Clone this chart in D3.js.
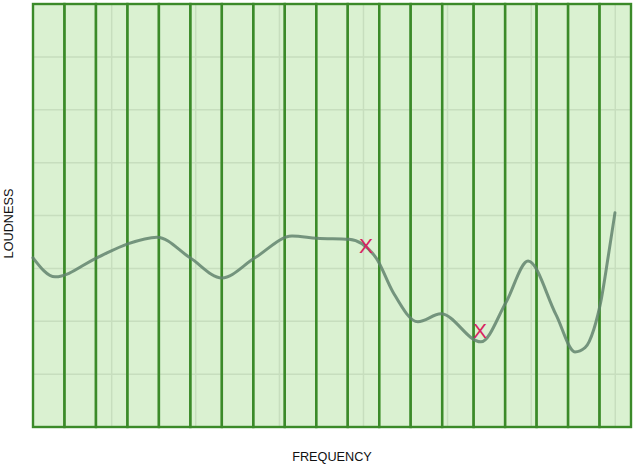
<!DOCTYPE html>
<html>
<head>
<meta charset="utf-8">
<script src="https://cdn.jsdelivr.net/npm/d3@7"></script>
<style>
  html, body { margin: 0; padding: 0; background: #fff; }
  svg { display: block; }
  text { font-family: "Liberation Sans", Arial, Helvetica, sans-serif; }
</style>
</head>
<body>
<svg id="chart" width="636" height="465"></svg>
<script>
// ---- data ----
const bands = ["1","2","3","4","5","6","7","8","9","10","11","12","13","14","15","16","17","18","19"];
const bandLoudness = [8,8,8,8,8,8,8,8,8,8,8,8,8,8,8,8,8,8,8];

// curve: frequency (band units) and loudness
const curveFreq = [0, 0.70, 2.03, 2.99, 3.94, 4.99, 6.00, 7.05, 8.23, 9.02, 10.04, 10.90, 11.44, 12.23, 12.96, 14.23, 15.03, 15.73, 16.62, 17.22, 17.54, 17.82, 18.05, 18.27, 18.49];
const curveLoud = [3.20, 2.84, 3.20, 3.46, 3.59, 3.20, 2.82, 3.20, 3.61, 3.57, 3.55, 3.20, 2.55, 1.99, 2.14, 1.61, 2.36, 3.14, 2.12, 1.42, 1.50, 1.85, 2.40, 3.20, 4.05];

// marked points
const markFreq = [10.58, 14.20];
const markLoud = [3.44, 1.82];

// grid ticks
const yGridTicks = [1, 2, 3, 4, 5, 6, 7];
const xGridTicks = [2.5, 5.17, 7.83, 10.5, 13.17, 15.83, 18.5];

const xLabel = "FREQUENCY";
const yLabel = "LOUDNESS";

(function () {
// ---- layout ----
const mLeft = 33, mRight = 631, mTop = 4, mBottom = 427;
const svg = d3.select("#chart");

const xBand = d3.scaleBand().domain(bands).range([mLeft, mRight]).padding(0);
const xLin = d3.scaleLinear().domain([0, bands.length]).range([mLeft, mRight]);
const y = d3.scaleLinear().domain([0, 8]).range([mBottom, mTop]);

// grid (behind bars)
const grid = svg.append("g");
grid.selectAll("line.h").data(yGridTicks).join("line")
  .attr("class", "h")
  .attr("x1", mLeft).attr("x2", mRight)
  .attr("y1", d => y(d)).attr("y2", d => y(d))
  .attr("stroke", "#dadada").attr("stroke-width", 1.5);
grid.selectAll("line.v").data(xGridTicks).join("line")
  .attr("class", "v")
  .attr("y1", mTop).attr("y2", mBottom)
  .attr("x1", d => xLin(d)).attr("x2", d => xLin(d))
  .attr("stroke", "#dadada").attr("stroke-width", 1.5);

// bars
svg.append("g").selectAll("rect").data(bands).join("rect")
  .attr("x", d => xBand(d))
  .attr("width", xBand.bandwidth())
  .attr("y", (d, i) => y(bandLoudness[i]))
  .attr("height", (d, i) => y(0) - y(bandLoudness[i]))
  .attr("fill", "rgb(178,226,158)")
  .attr("fill-opacity", 0.48)
  .attr("stroke", "#3b8a29")
  .attr("stroke-width", 2.4);

// curve
const pts = curveFreq.map((f, i) => [f, curveLoud[i]]);
const line = d3.line()
  .x(d => xLin(d[0]))
  .y(d => y(d[1]))
  .curve(d3.curveMonotoneX);
svg.append("path")
  .attr("d", line(pts))
  .attr("fill", "none")
  .attr("stroke", "rgb(98,132,110)")
  .attr("stroke-opacity", 0.85)
  .attr("stroke-width", 3)
  .attr("stroke-linecap", "round");

// markers
svg.append("g").selectAll("text").data(markFreq).join("text")
  .attr("x", d => xLin(d))
  .attr("y", (d, i) => y(markLoud[i]))
  .attr("dy", "0.36em")
  .attr("text-anchor", "middle")
  .attr("font-size", 21)
  .attr("fill", "#d8245f")
  .text("X");

// axis labels
svg.append("text")
  .attr("x", (mLeft + mRight) / 2)
  .attr("y", 461)
  .attr("text-anchor", "middle")
  .attr("font-size", 12.7)
  .attr("fill", "#111")
  .text(xLabel);

svg.append("text")
  .attr("transform", "translate(13," + ((mTop + mBottom) / 2 + 8) + ") rotate(-90)")
  .attr("text-anchor", "middle")
  .attr("font-size", 12.7)
  .attr("fill", "#111")
  .text(yLabel);
})();
</script>
</body>
</html>
